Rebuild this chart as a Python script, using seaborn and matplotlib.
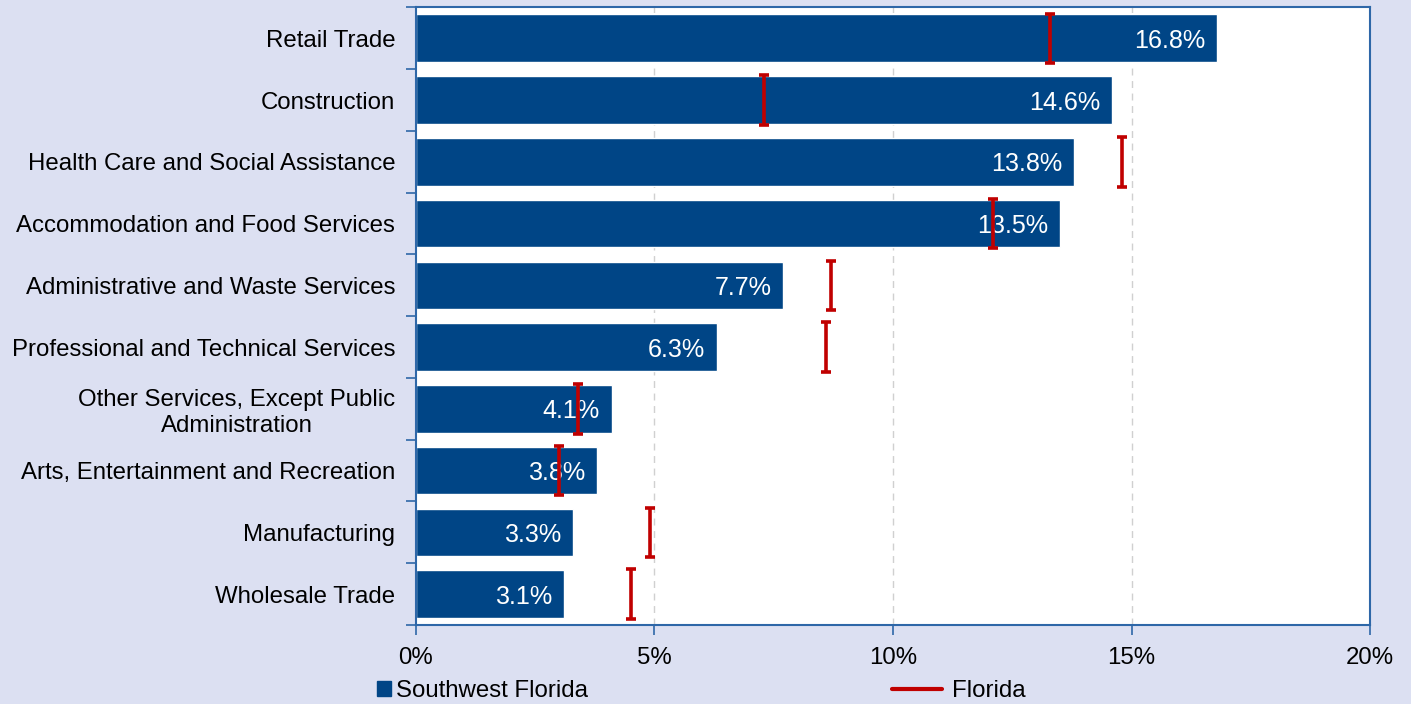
import numpy as np
import pandas as pd
import matplotlib
matplotlib.use("Agg")
import matplotlib.pyplot as plt
from matplotlib.lines import Line2D
from matplotlib.patches import Patch
import seaborn as sns

industries = [
    "Retail Trade",
    "Construction",
    "Health Care and Social Assistance",
    "Accommodation and Food Services",
    "Administrative and Waste Services",
    "Professional and Technical Services",
    "Other Services, Except Public\nAdministration",
    "Arts, Entertainment and Recreation",
    "Manufacturing",
    "Wholesale Trade",
]
southwest_florida = [16.8, 14.6, 13.8, 13.5, 7.7, 6.3, 4.1, 3.8, 3.3, 3.1]
florida = [13.3, 7.3, 14.8, 12.1, 8.7, 8.6, 3.4, 3.0, 4.9, 4.5]
x_ticks = [0, 5, 10, 15, 20]
x_tick_labels = ["0%", "5%", "10%", "15%", "20%"]

BG = "#DCE0F2"
BAR = "#004586"
RED = "#C00000"
SPINE = "#2E67A8"
FS = 17.3

sns.set_style("white")
plt.rcParams["font.family"] = ["Liberation Sans", "DejaVu Sans"]
plt.rcParams["text.color"] = "black"
plt.rcParams["xtick.labelcolor"] = "black"
plt.rcParams["ytick.labelcolor"] = "black"

df = pd.DataFrame({"industry": industries, "share": southwest_florida})

fig = plt.figure(figsize=(14.11, 7.04), dpi=100, facecolor=BG)
ax = fig.add_axes([0.2948, 0.1122, 0.9710 - 0.2948, 0.9895 - 0.1122])
ax.set_facecolor("white")

sns.barplot(data=df, x="share", y="industry", orient="h", color=BAR,
            saturation=1, width=0.77, ax=ax, zorder=2)

pos = np.arange(len(industries))
ax.errorbar(florida, pos, yerr=0.4, fmt="none", ecolor=RED,
            elinewidth=2.6, capsize=3.6, capthick=2.6, zorder=4)

for y, v in zip(pos, southwest_florida):
    ax.annotate(f"{v:.1f}%", xy=(v, y), xytext=(-8.5, 0),
                textcoords="offset points", ha="right",
                va="center_baseline", color="white", fontsize=FS + 0.8,
                zorder=3)

ax.set_xlim(0, 20)
ax.set_ylim(len(industries) - 0.5, -0.5)
ax.set_xticks(x_ticks)
ax.set_xticklabels(x_tick_labels, fontsize=FS)
ax.set_xlabel("")
ax.set_ylabel("")

ax.set_yticks(pos)
ax.set_yticklabels(industries, fontsize=FS, multialignment="center")
ax.set_yticks(np.arange(-0.5, len(industries) + 0.5, 1), minor=True)
ax.tick_params(axis="y", which="major", length=0, pad=15)
ax.tick_params(axis="y", which="minor", length=7, width=1.2, color=SPINE,
               direction="out", left=True)
ax.tick_params(axis="x", length=7, width=1.2, color=SPINE, direction="out",
               bottom=True, pad=9)

for x in x_ticks[1:-1]:
    ax.axvline(x, color="#D0D0D0", linestyle=(0, (5, 4)), linewidth=1,
               zorder=1)

for side in ["left", "right", "top", "bottom"]:
    ax.spines[side].set_visible(True)
    ax.spines[side].set_color(SPINE)
    ax.spines[side].set_linewidth(1.5)

sw_handle = Patch(facecolor=BAR, edgecolor=BAR)
fl_handle = Line2D([0], [0], color=RED, linewidth=3)
fig.legend([sw_handle], ["Southwest Florida"], loc="center left",
           bbox_to_anchor=(0.267, 0.018), frameon=False, fontsize=FS,
           handlelength=0.6, handleheight=0.6, handletextpad=0.2,
           borderpad=0, borderaxespad=0)
fig.legend([fl_handle], ["Florida"], loc="center left",
           bbox_to_anchor=(0.632, 0.018), frameon=False, fontsize=FS,
           handlelength=2.1, handletextpad=0.4,
           borderpad=0, borderaxespad=0)

fig.savefig("out.png", dpi=100, facecolor=BG)
